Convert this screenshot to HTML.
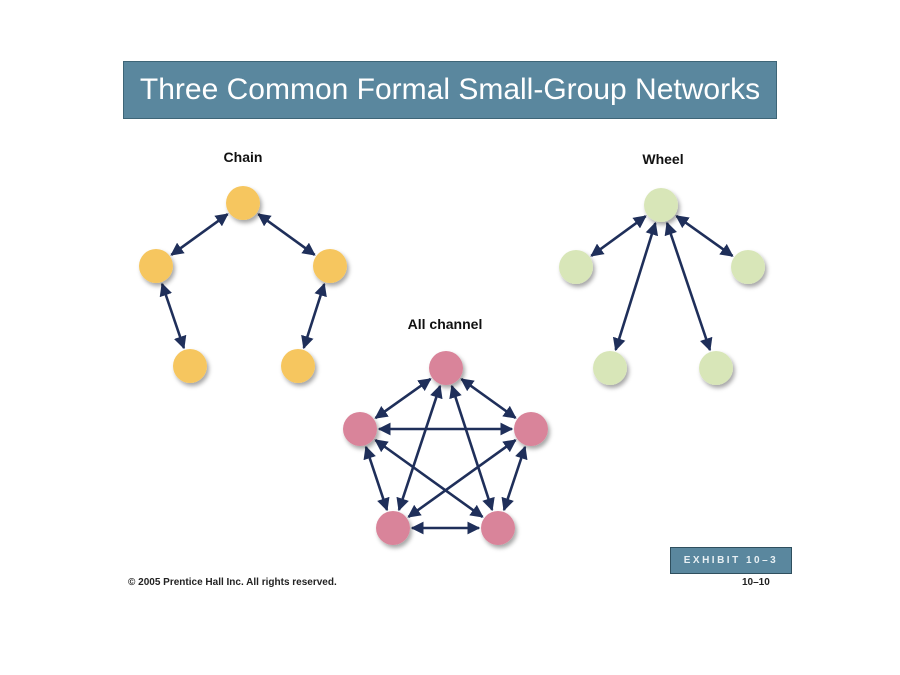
<!DOCTYPE html>
<html><head><style>
body{margin:0;background:#fff;}
.wrap{position:relative;width:900px;height:675px;overflow:hidden;font-family:"Liberation Sans",sans-serif;}
.title{position:absolute;left:123px;top:61px;width:654px;height:58px;background:#5a879e;border:1px solid #3e6577;box-sizing:border-box;color:#fff;font-size:30px;text-align:center;line-height:56px;}
.ex{position:absolute;left:670px;top:547px;width:122px;height:27px;background:#5a879e;border:1px solid #2f4f5e;box-sizing:border-box;color:#e8f0f4;font-size:10px;font-weight:bold;letter-spacing:2.5px;text-align:center;line-height:25px;}
.foot{position:absolute;top:577px;font-size:10px;font-weight:bold;color:#222;}
</style></head><body><div class="wrap">
<div class="title">Three Common Formal Small-Group Networks</div>
<svg width="900" height="675" style="position:absolute;left:0;top:0">
<defs>
<marker id="a" viewBox="0 0 10 10" refX="9" refY="5" markerWidth="5" markerHeight="5" orient="auto-start-reverse"><path d="M0,0L10,5L0,10z" fill="#1f2f5a"/></marker>
<filter id="s"><feDropShadow dx="2" dy="3" stdDeviation="2" flood-opacity="0.35"/></filter>
</defs>
<g font-family="Liberation Sans" font-weight="bold" font-size="14" fill="#111" text-anchor="middle">
<text x="243" y="162">Chain</text><text x="663" y="164">Wheel</text><text x="445" y="329">All channel</text>
</g>
<g id="lines" stroke="#1f2f5a" stroke-width="2.6" marker-start="url(#a)" marker-end="url(#a)"></g>
<g id="nodes" filter="url(#s)"></g>
</svg>
<div class="ex">EXHIBIT 10–3</div>
<div class="foot" style="left:128px">© 2005 Prentice Hall Inc. All rights reserved.</div>
<div class="foot" style="left:742px">10–10</div>
</div>
<script>
var L=document.getElementById('lines'),N=document.getElementById('nodes'),r=17,ns="http://www.w3.org/2000/svg";
function ln(a,b){var dx=b[0]-a[0],dy=b[1]-a[1],d=Math.hypot(dx,dy),ux=dx/d,uy=dy/d,e=document.createElementNS(ns,'line');
e.setAttribute('x1',a[0]+ux*(r+2));e.setAttribute('y1',a[1]+uy*(r+2));e.setAttribute('x2',b[0]-ux*(r+2));e.setAttribute('y2',b[1]-uy*(r+2));L.appendChild(e);}
function nd(p,c){var e=document.createElementNS(ns,'circle');e.setAttribute('cx',p[0]);e.setAttribute('cy',p[1]);e.setAttribute('r',r);e.setAttribute('fill',c);N.appendChild(e);}
var C=[[243,203],[156,266],[330,266],[190,366],[298,366]];
ln(C[0],C[1]);ln(C[0],C[2]);ln(C[1],C[3]);ln(C[2],C[4]);
C.forEach(function(p){nd(p,'#f6c65e')});
var W=[[661,205],[576,267],[748,267],[610,368],[716,368]];
for(var i=1;i<5;i++)ln(W[0],W[i]);
W.forEach(function(p){nd(p,'#d8e6b8')});
var A=[[446,368],[360,429],[531,429],[393,528],[498,528]];
for(var i=0;i<5;i++)for(var j=i+1;j<5;j++)ln(A[i],A[j]);
A.forEach(function(p){nd(p,'#d9849a')});
</script>
</body></html>
